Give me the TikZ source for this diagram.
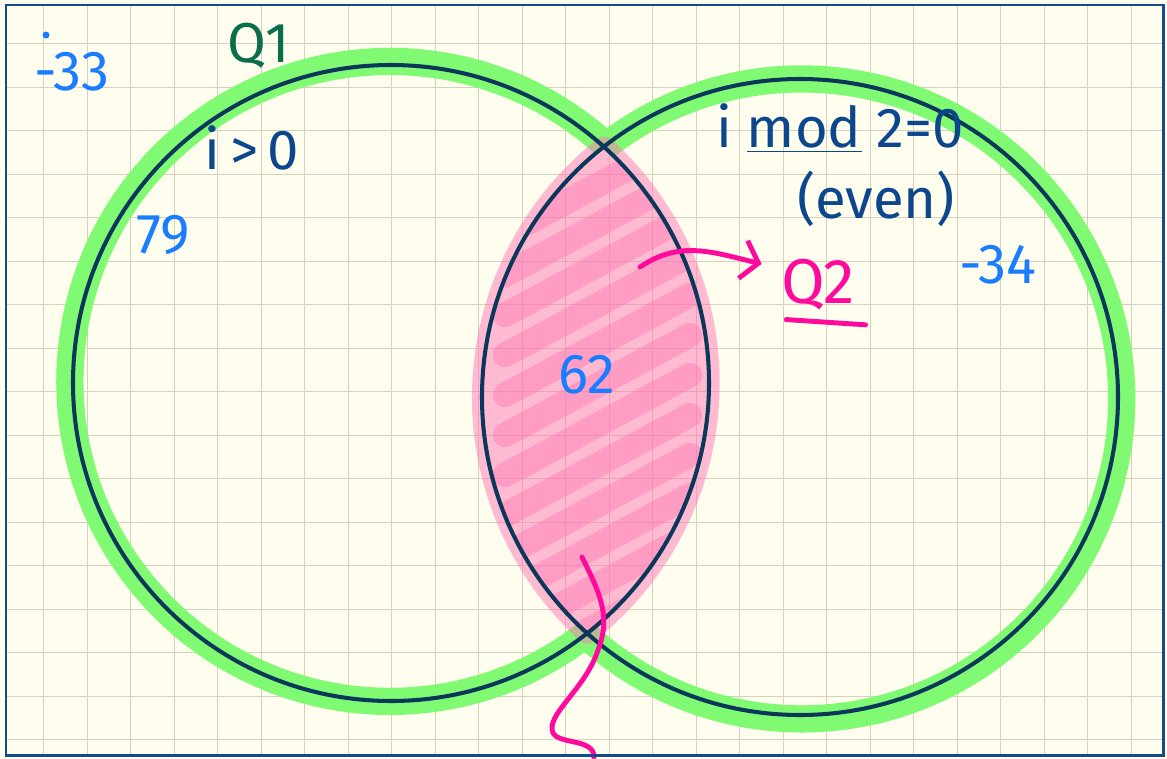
\documentclass[tikz,border=0pt]{standalone}
\usepackage{fontspec}
\setmainfont{Fira Sans}
\definecolor{paper}{RGB}{254,253,238}
\definecolor{gridtan}{RGB}{214,208,190}
\definecolor{frameblue}{RGB}{20,75,140}
\definecolor{ringnavy}{RGB}{10,55,90}
\definecolor{highgreen}{RGB}{128,250,115}
\definecolor{lenspink}{RGB}{255,120,180}
\definecolor{penpink}{RGB}{255,10,156}
\definecolor{penblue}{RGB}{25,125,255}
\definecolor{pennavy}{RGB}{12,70,140}
\definecolor{pengreen}{RGB}{10,110,75}
\usepackage{tikz}
\usetikzlibrary{arrows.meta}

\begin{document}
\begin{tikzpicture}[
        x=0.02cm, y=-0.02cm,
        gridline/.style={draw=gridtan, line width=0.5pt},
        ring/.style={draw=ringnavy, line width=2.3pt},
        glow/.style={draw=highgreen, line width=15.5pt},
        scribble/.style={draw=lenspink, opacity=0.45, line width=14pt, line cap=round},
        pen/.style={draw=penpink, line width=2.8pt, line cap=round},
        lbl/.style={inner sep=0pt, font=\fontsize{32}{36}\selectfont}
      ]
        \useasboundingbox (0,0) rectangle (1167,758);
        \fill[paper] (0,0) rectangle (1167,758);
        \foreach \k in {1,...,26}
          \draw[gridline] (43.5*\k,5) -- (43.5*\k,755);
        \foreach \k in {1,...,17}
          \draw[gridline] (6,43.5*\k) -- (1163,43.5*\k);
        % the two sets and where they cross
        \coordinate (cL) at (391,383);
        \coordinate (cR) at (800,397);
        \coordinate (top) at (604.3,147.1);
        \coordinate (bot) at (587.3,633.2);
        % highlighted outline of the union
        \draw[glow] (bot) arc[start angle=51.9, end angle=312.1, radius=320];
        \draw[glow] (top) arc[start angle=-128.1, end angle=132.1, radius=320];
        % shaded overlap
        \begin{scope}[transparency group, opacity=0.5]
          \filldraw[lenspink, line width=12pt, line join=round]
            (top) arc[start angle=-47.9, end angle=51.9, radius=318]
                  arc[start angle=132.1, end angle=231.9, radius=318] -- cycle;
        \end{scope}
        \begin{scope}
          \clip (top) arc[start angle=-47.9, end angle=51.9, radius=318]
                      arc[start angle=132.1, end angle=231.9, radius=318] -- cycle;
          \foreach \y in {190,230,...,630}
            \draw[scribble] (505,\y+45) -- (690,\y-55);
        \end{scope}
        \draw[ring] (cL) circle[radius=318];
        \draw[ring] (cR) circle[radius=318];
        % labels
        \fill[penblue] (46,35) circle (3.5);
        \node[lbl, text=penblue] (outside) at (72,72) {-33};
        \node[lbl, text=pengreen] (qone) at (259,46) {Q1};
        \node[lbl, text=pennavy] (cond) at (252,148) {i\,>\,0};
        \node[lbl, text=penblue] (left) at (163,235) {79};
        \node[lbl, text=pennavy] (even) at (840,128) {i \underline{mod} 2=0};
        \node[lbl, text=pennavy, below=6pt] (evenword) at (876,160) {(even)};
        \node[lbl, text=penblue] (right) at (998,265) {-34};
        \node[lbl, text=penblue] (both) at (587,375) {62};
        \node[lbl, text=penpink, font=\fontsize{36}{40}\selectfont] (qtwo) at (818,285) {Q2};
        \draw[pen] ([xshift=3pt, yshift=-5pt]qtwo.south west) -- ([xshift=6pt, yshift=-8pt]qtwo.south east);
        % pointers
        \coordinate (lensR) at (640,267);
        \coordinate (lensB) at (582,557);
        \coordinate (offpage) at (594,758);
        \draw[pen, -{Straight Barb[length=9pt, width=22pt]}] (lensR)
          .. controls (680,240) and (712,252) .. ([xshift=-11pt, yshift=12pt]qtwo.west);
        \draw[pen] (lensB) .. controls (598,590) and (612,615) .. (598,650)
          .. controls (585,690) and (545,715) .. (553,733)
          .. controls (560,745) and (595,738) .. (offpage);
        \draw[frameblue, line width=1.7pt] (6,5) rectangle (1163,755);
      \end{tikzpicture}
\end{document}
